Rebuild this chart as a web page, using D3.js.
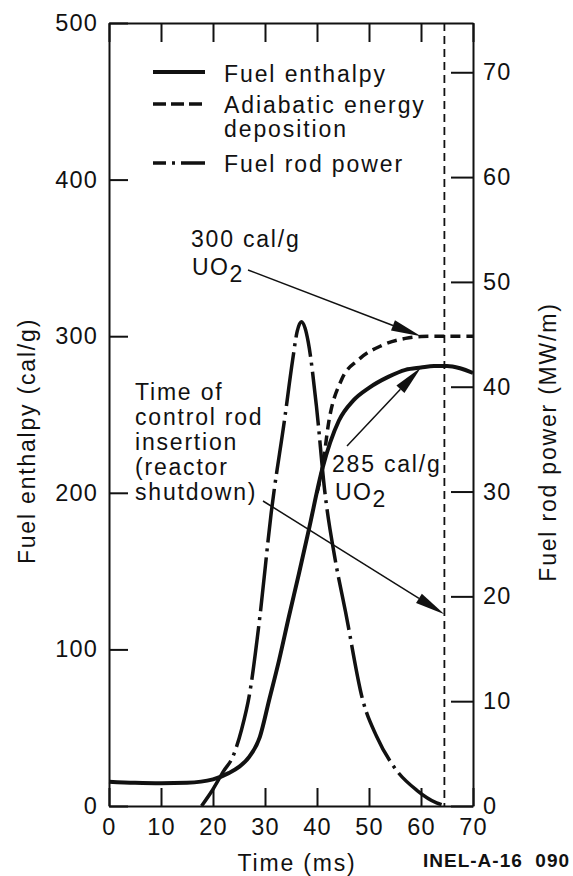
<!DOCTYPE html>
<html>
<head>
<meta charset="utf-8">
<script src="https://cdn.jsdelivr.net/npm/d3@7"></script>
<style>
  html, body { margin: 0; padding: 0; background: #fff; }
  svg text { font-family: "Liberation Sans", Arial, Helvetica, sans-serif; fill: #111; }
</style>
</head>
<body>
<div id="chart"></div>
<script>
// values (time in ms)
const timeTicks = [0, 10, 20, 30, 40, 50, 60, 70];
const enthalpyTicks = [0, 100, 200, 300, 400, 500];
const powerTicks = [0, 10, 20, 30, 40, 50, 60, 70];

// fuel enthalpy, cal/g (solid)
const enthalpyTime = [0, 5, 10, 15, 20, 23, 25, 27, 29, 30.8, 32.7, 34.6, 36.5, 38.4, 41, 44.2, 47, 50, 53.7, 57, 60, 62.5, 65, 67.5, 70];
const enthalpyValue = [15.5, 14.8, 14.5, 14.8, 17, 21, 25, 31.5, 44, 67.7, 93, 121, 148, 176, 215, 246, 259, 267, 274, 278.5, 280, 281, 281, 279.5, 276.5];

// adiabatic energy deposition, cal/g (dashed) - splits off the solid curve near 40 ms
const adiabaticTime = [40, 41, 42.3, 44.7, 48, 52.4, 57, 60, 63, 70];
const adiabaticValue = [200, 215, 246, 272, 285, 294, 298.6, 299.8, 300, 300];

// fuel rod power, MW/m (dash-dot, right axis)
const powerTime = [17.8, 20, 22, 23.8, 25.5, 27, 29, 31.2, 33.8, 35.3, 36.2, 37, 37.7, 38.3, 39.9, 41.5, 43.5, 45.5, 48.8, 51.5, 55.3, 59.2, 63, 65];
const powerValue = [0, 1.6, 3.3, 4.7, 7.3, 10.6, 18, 28, 37, 42.5, 45.3, 46.2, 45.6, 44.3, 38.1, 30, 23.5, 18.5, 10.1, 6.6, 3.4, 1.5, 0.3, 0];

const shutdownTime = 64.5;

const width = 573, height = 876;
const svg = d3.select("#chart").append("svg")
  .attr("width", width)
  .attr("height", height);

const x = d3.scaleLinear().domain([0, 70]).range([109, 473]);
const y = d3.scaleLinear().domain([0, 500]).range([806, 23]);
const y2 = d3.scaleLinear().domain([0, 74.7]).range([806, 23]);

const tickFont = 23.5;

function styleAxis(g) {
  g.select(".domain").attr("stroke", "#111").attr("stroke-width", 2);
  g.selectAll(".tick line").attr("stroke", "#111").attr("stroke-width", 2);
  g.selectAll(".tick text")
    .attr("font-size", tickFont)
    .attr("letter-spacing", 1.2)
    .attr("fill", "#111")
    .style("font-family", '"Liberation Sans", Arial, sans-serif');
}

// Axes: ticks point inward on all four sides
svg.append("g")
  .attr("transform", `translate(${x(0)},0)`)
  .call(d3.axisLeft(y).tickValues(enthalpyTicks).tickSizeInner(-19).tickSizeOuter(0).tickPadding(11))
  .call(styleAxis);

svg.append("g")
  .attr("transform", `translate(0,${y(0)})`)
  .call(d3.axisBottom(x).tickValues(timeTicks).tickSizeInner(-18).tickSizeOuter(0).tickPadding(12))
  .call(styleAxis);

svg.append("g")
  .attr("transform", `translate(0,${y(500)})`)
  .call(d3.axisTop(x).tickValues(timeTicks).tickSizeInner(-19).tickSizeOuter(0).tickFormat(""))
  .call(styleAxis);

svg.append("g")
  .attr("transform", `translate(${x(70)},0)`)
  .call(d3.axisRight(y2).tickValues(powerTicks).tickSizeInner(-22).tickSizeOuter(0).tickPadding(10))
  .call(styleAxis);

// Axis titles
svg.append("text")
  .attr("transform", "translate(35,441) rotate(-90)")
  .attr("text-anchor", "middle")
  .attr("font-size", 23)
  .attr("letter-spacing", 1.8)
  .text("Fuel enthalpy (cal/g)");

svg.append("text")
  .attr("transform", "translate(556,442) rotate(-90)")
  .attr("text-anchor", "middle")
  .attr("font-size", 23)
  .attr("letter-spacing", 1.8)
  .text("Fuel rod power (MW/m)");

svg.append("text")
  .attr("x", 297)
  .attr("y", 871)
  .attr("text-anchor", "middle")
  .attr("font-size", 23)
  .attr("letter-spacing", 1.8)
  .text("Time (ms)");

svg.append("text")
  .attr("x", 423)
  .attr("y", 867)
  .attr("font-size", 19)
  .attr("font-weight", "bold")
  .attr("letter-spacing", 1)
  .style("white-space", "pre")
  .text("INEL-A-16  090");

// Time of reactor shutdown
svg.append("line")
  .attr("x1", x(shutdownTime)).attr("x2", x(shutdownTime))
  .attr("y1", y(500)).attr("y2", y(0))
  .attr("stroke", "#111")
  .attr("stroke-width", 1.8)
  .attr("stroke-dasharray", "8,5");

// Curves
const zip = (a, b) => a.map((d, i) => [d, b[i]]);

const enthalpyLine = d3.line()
  .x((d) => x(d[0]))
  .y((d) => y(d[1]))
  .curve(d3.curveMonotoneX);

const powerLine = d3.line()
  .x((d) => x(d[0]))
  .y((d) => y2(d[1]))
  .curve(d3.curveMonotoneX);

svg.append("path")
  .attr("d", powerLine(zip(powerTime, powerValue)))
  .attr("fill", "none")
  .attr("stroke", "#111")
  .attr("stroke-width", 3.5)
  .attr("stroke-dasharray", "54,6,3,6");

svg.append("path")
  .attr("d", enthalpyLine(zip(adiabaticTime, adiabaticValue)))
  .attr("fill", "none")
  .attr("stroke", "#111")
  .attr("stroke-width", 3.5)
  .attr("stroke-dasharray", "10,6");

svg.append("path")
  .attr("d", enthalpyLine(zip(enthalpyTime, enthalpyValue)))
  .attr("fill", "none")
  .attr("stroke", "#111")
  .attr("stroke-width", 4);

// Legend
const legend = svg.append("g").attr("font-size", 23).attr("letter-spacing", 1.9);
const legendItems = [
  { dash: null, ly: 72, lines: [["Fuel enthalpy", 82]] },
  { dash: "13,5", ly: 104, lines: [["Adiabatic energy", 113], ["deposition", 137]] },
  { dash: "13,6,3,6,30", ly: 163, lines: [["Fuel rod power", 172]] }
];
legendItems.forEach((d) => {
  legend.append("line")
    .attr("x1", 153).attr("x2", 205)
    .attr("y1", d.ly).attr("y2", d.ly)
    .attr("stroke", "#111")
    .attr("stroke-width", d.dash ? 3.5 : 4)
    .attr("stroke-dasharray", d.dash);
  d.lines.forEach(([t, ty]) => {
    legend.append("text").attr("x", 224).attr("y", ty).text(t);
  });
});

// Annotations with arrows
function arrow(x1, y1, x2, y2) {
  const a = Math.atan2(y2 - y1, x2 - x1);
  const len = 30, hw = 5.5;
  const bx = x2 - len * Math.cos(a), by = y2 - len * Math.sin(a);
  svg.append("line")
    .attr("x1", x1).attr("y1", y1).attr("x2", bx).attr("y2", by)
    .attr("stroke", "#111").attr("stroke-width", 1.5);
  const px = -Math.sin(a) * hw, py = Math.cos(a) * hw;
  svg.append("polygon")
    .attr("points", `${x2},${y2} ${bx + px},${by + py} ${bx - px},${by - py}`)
    .attr("fill", "#111");
}

function uo2(xp, yp) {
  const t = svg.append("text").attr("x", xp).attr("y", yp).attr("font-size", 23).attr("letter-spacing", 1.5);
  t.append("tspan").text("UO");
  t.append("tspan").attr("dy", 7).text("2");
}

const note = svg.append("g").attr("font-size", 23).attr("letter-spacing", 1.8);
note.append("text").attr("x", 191).attr("y", 247).text("300 cal/g");
uo2(192, 275);
arrow(248, 270, x(60), y(300));

note.append("text").attr("x", 332).attr("y", 472).text("285 cal/g");
uo2(335, 500);
arrow(347, 446, x(60), y(280));

const shutdownLines = ["Time of", "control rod", "insertion", "(reactor", "shutdown)"];
shutdownLines.forEach((t, i) => {
  note.append("text").attr("x", 135).attr("y", 400 + i * 25).text(t);
});
arrow(263, 501, x(shutdownTime), y2(18.3));
</script>
</body>
</html>
